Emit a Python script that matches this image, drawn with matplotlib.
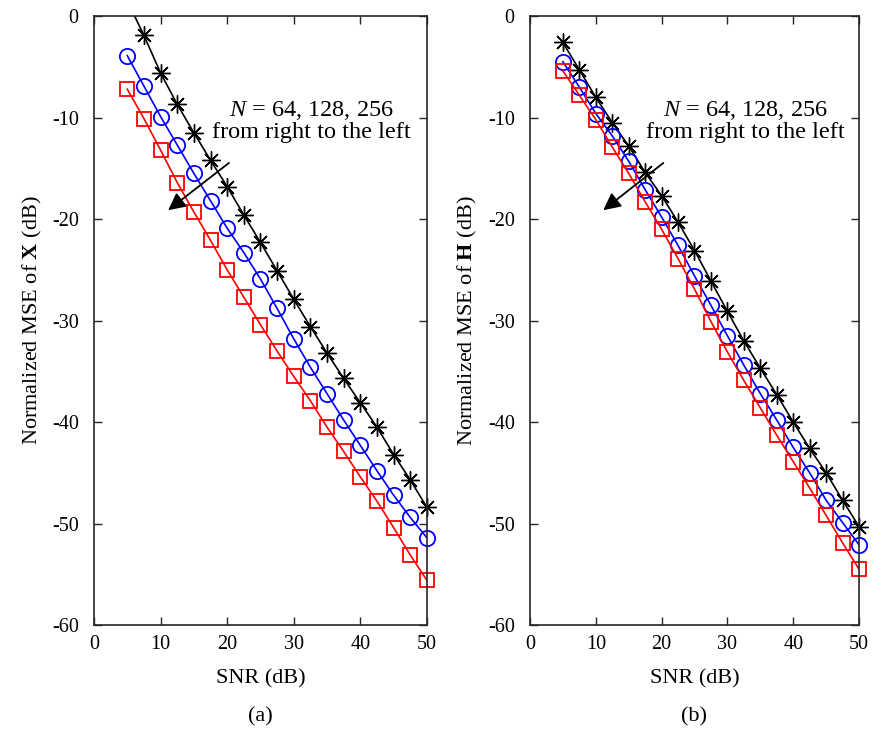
import numpy as np
import matplotlib.pyplot as plt

plt.rcParams["font.family"] = ["Liberation Serif", "DejaVu Serif"]
plt.rcParams["mathtext.fontset"] = "custom"
plt.rcParams["mathtext.rm"] = "Liberation Serif"
plt.rcParams["mathtext.it"] = "Liberation Serif:italic"
plt.rcParams["mathtext.bf"] = "Liberation Serif:bold"
plt.rcParams["axes.unicode_minus"] = False

# -----------------------------
# Data
# -----------------------------
snr = np.arange(5, 50.1, 2.5)

# (a) MSE of X
x_n64 = [1.5, -1.9, -5.6, -8.7, -11.5, -14.2, -16.8, -19.6, -22.3, -25.1,
         -27.9, -30.6, -33.2, -35.7, -38.1, -40.5, -43.2, -45.7, -48.4]
x_n128 = [-3.9, -6.9, -9.9, -12.7, -15.5, -18.2, -20.9, -23.3, -25.9, -28.8,
          -31.8, -34.6, -37.2, -39.8, -42.3, -44.8, -47.2, -49.4, -51.4]
x_n256 = [-7.2, -10.1, -13.2, -16.4, -19.3, -22.1, -25.0, -27.7, -30.4, -33.0,
          -35.5, -37.9, -40.5, -42.9, -45.4, -47.8, -50.4, -53.1, -55.6]

# (b) MSE of H
h_n64 = [-2.6, -5.3, -8.0, -10.5, -12.8, -15.4, -17.7, -20.3, -23.1, -26.1,
         -29.1, -32.0, -34.7, -37.3, -40.0, -42.6, -45.0, -47.7, -50.3]
h_n128 = [-4.5, -7.0, -9.6, -11.8, -14.3, -17.1, -19.8, -22.6, -25.6, -28.5,
          -31.5, -34.4, -37.2, -39.8, -42.5, -45.0, -47.7, -49.9, -52.1]
h_n256 = [-5.4, -7.8, -10.2, -12.9, -15.5, -18.3, -21.0, -23.9, -26.9, -30.1,
          -33.1, -35.9, -38.6, -41.3, -43.9, -46.5, -49.2, -51.9, -54.5]

panels = [
    (x_n64, x_n128, x_n256, r"Normalized MSE of $\mathbf{X}$ (dB)", "(a)"),
    (h_n64, h_n128, h_n256, r"Normalized MSE of $\mathbf{H}$ (dB)", "(b)"),
]

styles = [
    dict(color="black", marker=(8, 2, 0), ms=13, mfc="black", mew=1.0),
    dict(color="blue", marker="o", ms=11, mfc="none", mew=1.3),
    dict(color="red", marker="s", ms=10, mfc="none", mew=1.3),
]

# -----------------------------
# Plot
# -----------------------------
fig = plt.figure(figsize=(8.76, 7.31), dpi=100)
axes_pos = [[0.1073, 0.145, 0.380, 0.833], [0.605, 0.145, 0.3756, 0.833]]

fs = 14.5
for pos, (y64, y128, y256, ylab, tag) in zip(axes_pos, panels):
    ax = fig.add_axes(pos)
    for ys, st in zip([y64, y128, y256], styles):
        ys = np.array(ys)
        ax.plot(snr, ys, "-", color=st["color"], lw=1.2)
        # markers drawn unclipped (like the original), skip those off the top
        ym = np.ma.masked_where(ys > 0, ys)
        ax.plot(snr, ym, ls="none", color=st["color"], marker=st["marker"],
                ms=st["ms"], mfc=st["mfc"], mew=st["mew"], clip_on=False)

    ax.set_xlim(0, 50)
    ax.set_ylim(-60, 0)
    ax.set_xticks(np.arange(0, 51, 10))
    ax.set_yticks(np.arange(-60, 1, 10))
    ax.tick_params(direction="in", top=True, right=True, labelsize=fs,
                   length=6, width=1, colors="#262626", labelcolor="black")
    ax.tick_params(axis="x", pad=7)
    ax.tick_params(axis="y", pad=11)
    for s in ax.spines.values():
        s.set_linewidth(1.2)
        s.set_color("#262626")
    ax.set_xlabel("SNR (dB)", fontsize=16)
    ax.xaxis.set_label_coords(0.5, -0.072)
    ax.set_ylabel(ylab, fontsize=16, labelpad=6)

    ax.text(32.7, -10.3, "$N$ = 64, 128, 256\nfrom right to the left",
            ha="center", va="center", fontsize=17.5, linespacing=1.0)
    ax.annotate("", xy=(10.8, -19.3), xytext=(20.6, -14.3),
                arrowprops=dict(arrowstyle="-|>", color="black", lw=1.3,
                                mutation_scale=26))

    fig.text(pos[0] + pos[2] / 2, 1 - 717 / 731, tag, ha="center",
             va="center", fontsize=16)

fig.savefig("out.png", dpi=100)
